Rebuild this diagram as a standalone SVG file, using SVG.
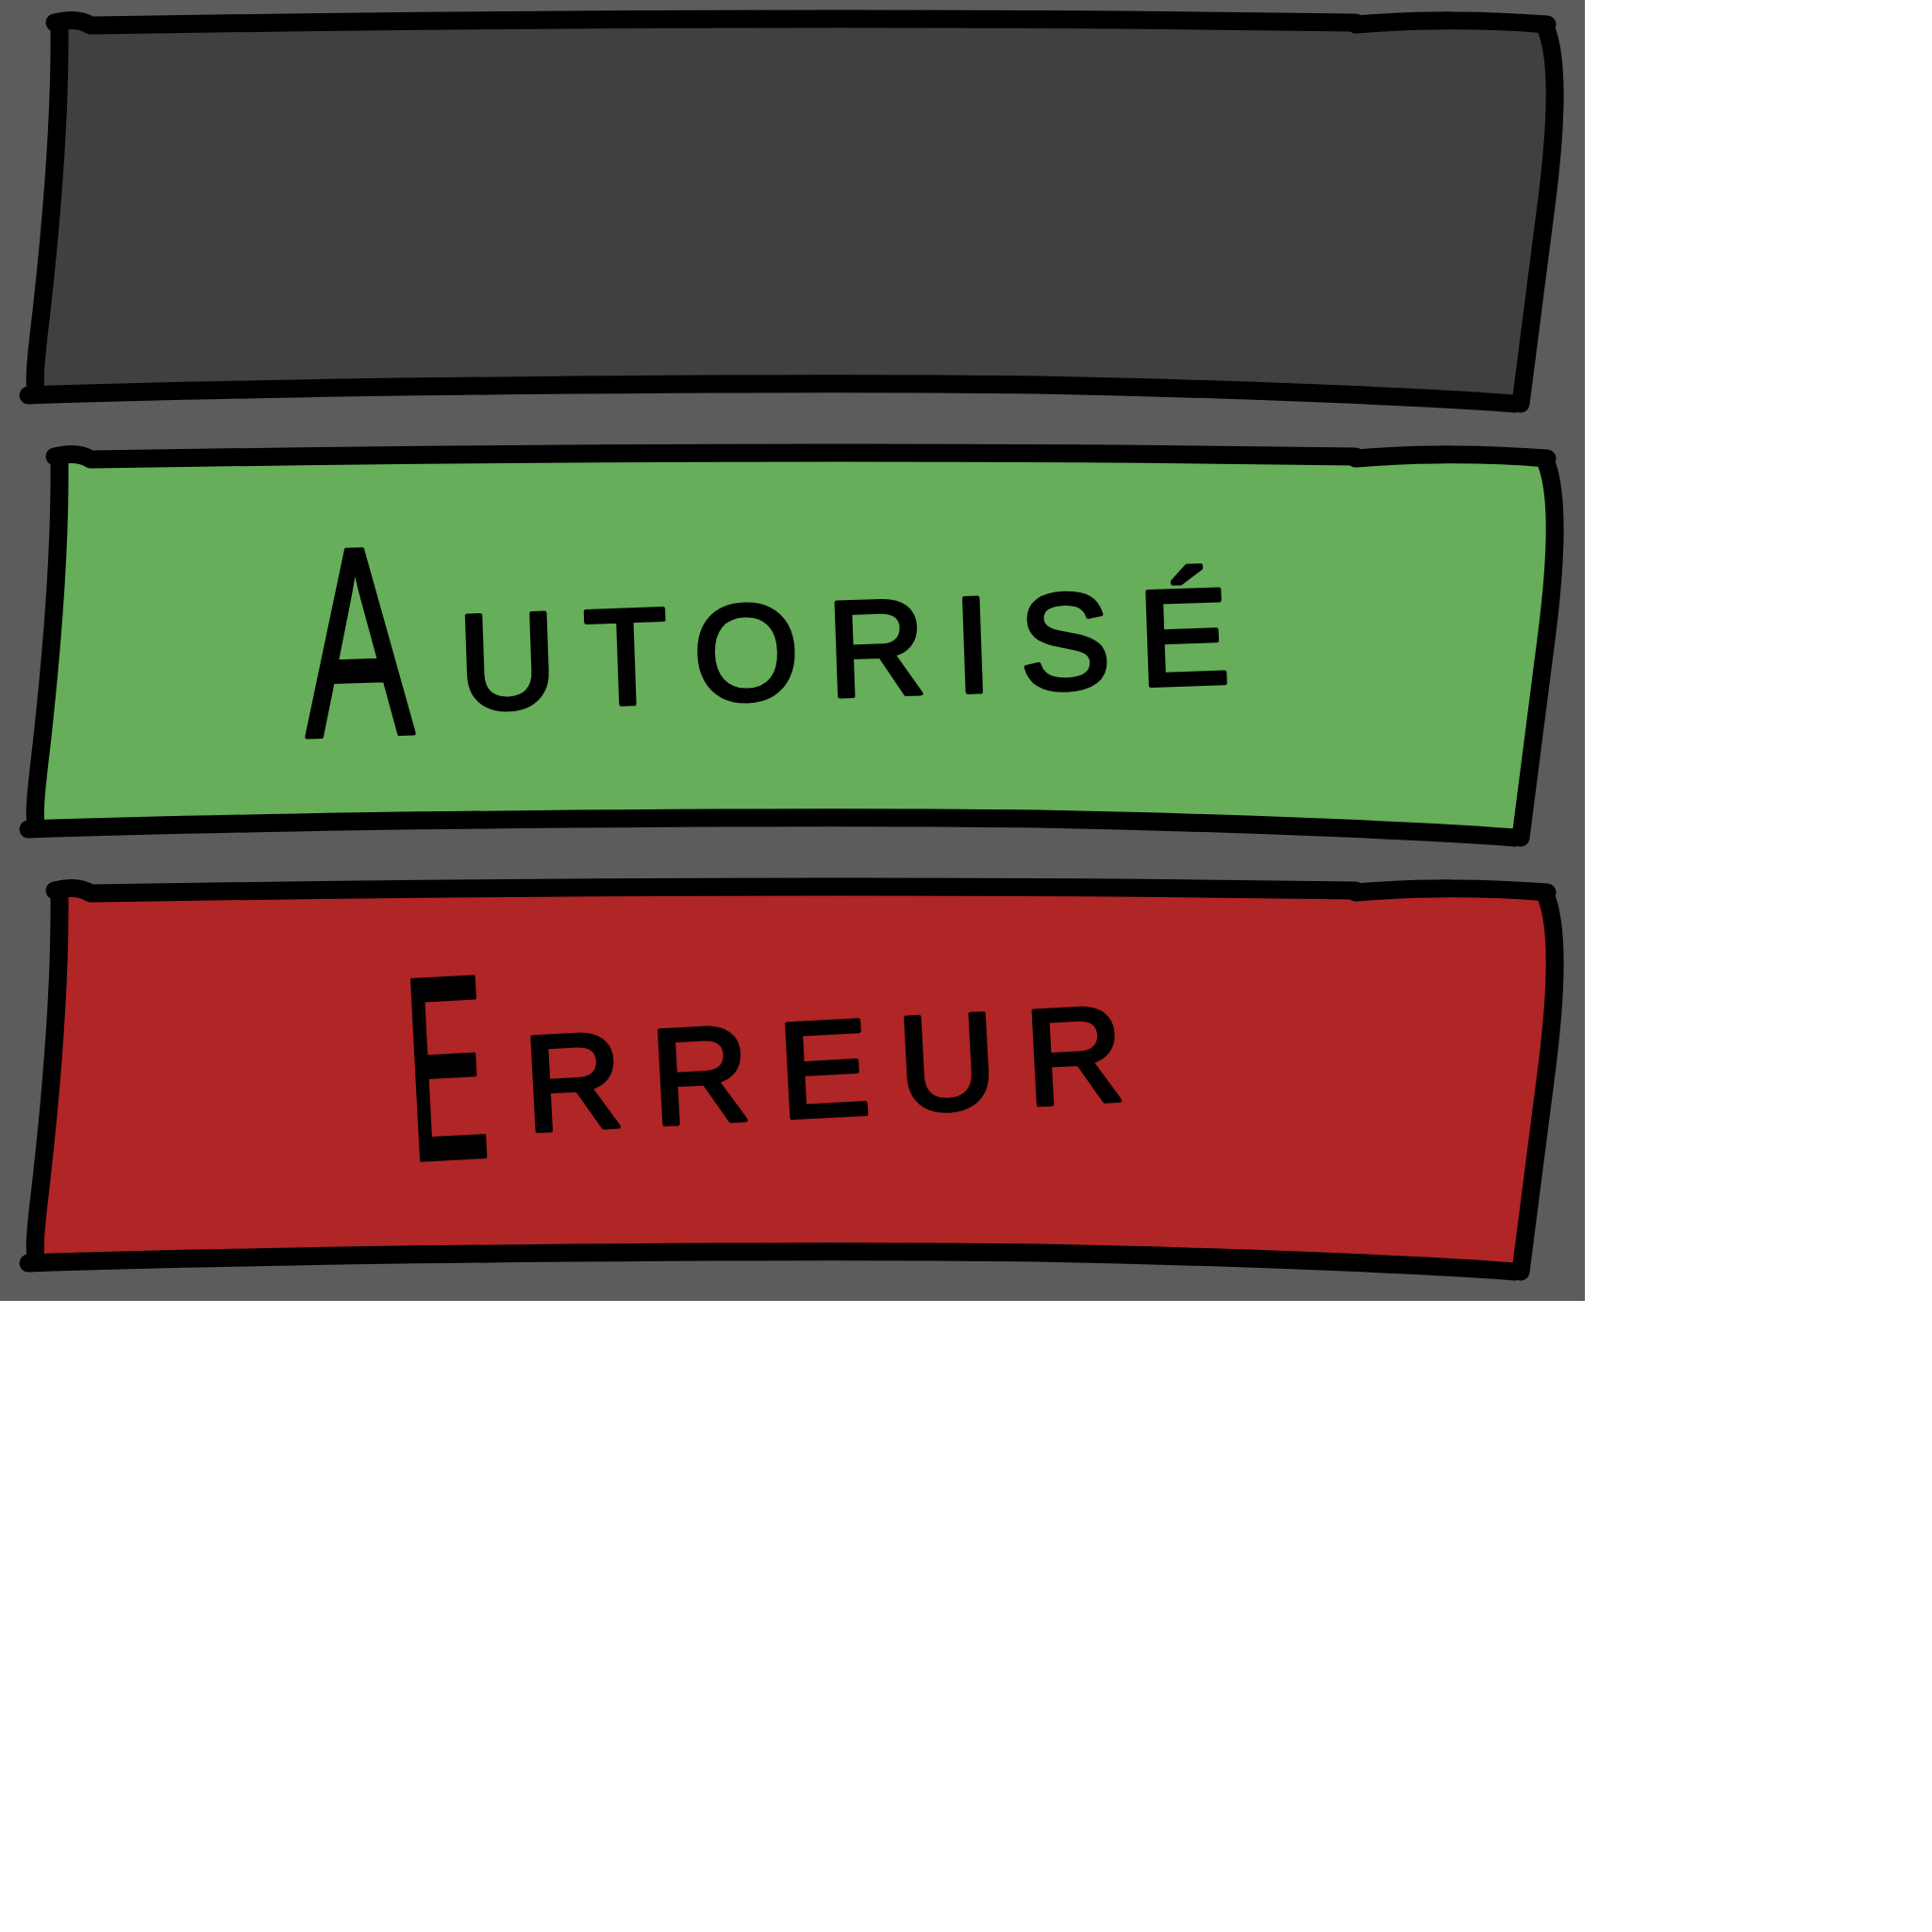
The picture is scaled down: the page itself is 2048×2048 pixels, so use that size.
<svg xmlns="http://www.w3.org/2000/svg" xmlns:xlink="http://www.w3.org/1999/xlink" width="2048" height="2048" viewBox="0 0 2048 2048">
<style>
.edge{fill:none;stroke:#000;stroke-width:19;stroke-linecap:round;stroke-linejoin:round}
.lbl{font-family:"Liberation Sans","DejaVu Sans",sans-serif;fill:#000;stroke:#000;stroke-width:5;stroke-linejoin:round}
.sc{font-variant:small-caps}
</style>
<defs>
<path id="shape" d="M58,24 L1437,20 L1638,24 C1652,60 1650,130 1640,210 L1612,424 C1000,410 600,405 32,418 C36,380 40,300 46,230 C52,150 60,80 58,24 Z"/>
<g id="outline">
<path class="edge" d="M58,24 C70,21 85,20 96,27 C400,22 900,16 1437,24"/>
<path class="edge" d="M1437,26 C1500,20 1580,21 1640,26"/>
<path class="edge" d="M63,28 C64,120 54,240 44,330 C38,380 36,400 38,414"/>
<path class="edge" d="M30,419 C300,410 800,404 1100,408 C1300,412 1500,420 1606,428"/>
<path class="edge" d="M1638,28 C1652,60 1650,130 1640,210 L1612,428"/>
</g>
</defs>
<rect x="0" y="0" width="2048" height="2048" fill="#ffffff"/>
<rect x="0" y="0" width="1680" height="1379" fill="#5c5c5c"/>
<g id="panel-empty">
<use xlink:href="#shape" fill="#404040"/>
<use xlink:href="#outline"/>
</g>
<g id="panel-autorise">
<use xlink:href="#shape" fill="#66ae5a" transform="translate(0,460)"/>
<use xlink:href="#outline" transform="translate(0,460)"/>
<text class="lbl" x="322" y="764" transform="rotate(-2 810 700)"><tspan font-size="285" textLength="115" lengthAdjust="spacingAndGlyphs">A</tspan><tspan class="sc" dx="49" dy="-23" font-size="205" letter-spacing="30">utorisé</tspan></text>
</g>
<g id="panel-erreur">
<use xlink:href="#shape" fill="#b02525" transform="translate(0,920)"/>
<use xlink:href="#outline" transform="translate(0,920)"/>
<text class="lbl" x="431" y="1210" transform="rotate(-3 810 1130)"><tspan font-size="276" textLength="85" lengthAdjust="spacingAndGlyphs">E</tspan><tspan class="sc" dx="39" dy="-24" font-size="205" letter-spacing="31">rreur</tspan></text>
</g>
</svg>
